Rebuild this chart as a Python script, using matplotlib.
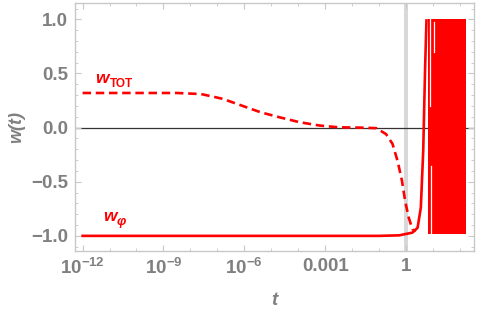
import numpy as np
import matplotlib.pyplot as plt
from matplotlib.ticker import FixedLocator, NullFormatter

plt.rcParams['font.family'] = ['Liberation Sans', 'DejaVu Sans']
plt.rcParams['font.weight'] = 'bold'
plt.rcParams['mathtext.fontset'] = 'custom'
plt.rcParams['mathtext.rm'] = 'Liberation Sans:bold'
plt.rcParams['mathtext.bf'] = 'Liberation Sans:bold'
plt.rcParams['mathtext.it'] = 'Liberation Sans:bold:italic'

# values (log10 t, w)
logt_tot = [-12, -8.5, -7.6, -6.8, -6.1, -5.4, -4.7, -3.95, -3.2, -2.5, -1.7, -1.1,
            -0.74, -0.5, -0.31, -0.15, -0.03, 0.1, 0.24, 0.37]
w_tot = [0.32, 0.32, 0.31, 0.266, 0.204, 0.142, 0.096, 0.05, 0.019, 0.003, 0.0, -0.005,
         -0.06, -0.15, -0.31, -0.49, -0.68, -0.83, -0.94, -0.955]

logt_phi = [-12, -1.0, -0.25, 0.24, 0.43, 0.55, 0.64, 0.71, 0.76]
w_phi = [-1.0, -1.0, -0.995, -0.97, -0.925, -0.74, -0.21, 0.56, 0.99]

# oscillating part of w_phi (fills the band between -1 and 1)
osc_logt = [0.81, 2.22]
osc_low, osc_high = -0.985, 1.0
# white slits inside the oscillation band: (log10 t, w from, w to)
osc_gaps = [(0.875, 1.0, 0.2), (0.935, -0.35, -0.985), (1.05, 0.98, 0.7)]

band_logt = [-0.06, 0.09]

red = '#ff0000'
grey = '#808080'

fig, ax = plt.subplots(figsize=(4.78, 3.13), dpi=100)
fig.subplots_adjust(left=0.157, right=0.992, top=0.99, bottom=0.198)

ax.axvspan(10 ** band_logt[0], 10 ** band_logt[1], color='#d8d8d8', lw=0, zorder=0)
ax.axhline(0, color='#333333', lw=0.9, zorder=1)

ax.plot(10 ** np.array(logt_tot), w_tot, color=red, lw=1.9, ls=(0, (3.2, 1.8)), zorder=3)
ax.plot(10 ** np.array(logt_phi), w_phi, color=red, lw=1.9, zorder=3)
ax.fill_between(10 ** np.array(osc_logt), osc_low, osc_high, color=red, lw=0, zorder=3)
for lg, w0, w1 in osc_gaps:
    ax.plot([10 ** lg, 10 ** lg], [w0, w1], color='white', lw=0.9, zorder=4)

ax.set_xscale('log')
ax.set_xlim(10 ** -12.28, 10 ** 2.53)
ax.set_ylim(-1.14, 1.15)

ax.xaxis.set_major_locator(FixedLocator([1e-12, 1e-9, 1e-6, 1e-3, 1]))
ax.set_xticklabels([r'$10^{-12}$', r'$10^{-9}$', r'$10^{-6}$', '0.001', '1'])
ax.xaxis.set_minor_locator(FixedLocator([10.0 ** k for k in range(-12, 3)]))
ax.xaxis.set_minor_formatter(NullFormatter())
ax.set_yticks([-1.0, -0.5, 0.0, 0.5, 1.0])
ax.set_yticklabels(['\u22121.0', '\u22120.5', '0.0', '0.5', '1.0'])
ax.set_yticks(np.arange(-1.1, 1.15, 0.1), minor=True)

for s in ax.spines.values():
    s.set_color('#c8c8c8')
    s.set_linewidth(1.0)
ax.tick_params(which='both', direction='in', top=True, right=True, color='#c8c8c8',
               labelcolor=grey, labelsize=13.5, pad=5)
ax.tick_params(which='major', length=4, width=0.8)
ax.tick_params(which='minor', length=2.5, width=0.6)

ax.set_xlabel('t', color=grey, fontsize=13.5, style='italic', fontweight='bold', labelpad=10)
ax.set_ylabel('w(t)', color=grey, fontsize=13, style='italic', fontweight='bold', labelpad=4)

ax.text(10 ** -11.52, 0.408, 'w', color=red, fontsize=12.5, style='italic', fontweight='bold')
ax.text(10 ** -10.99, 0.378, 'TOT', color=red, fontsize=8.5, fontweight='bold')
ax.text(10 ** -11.25, -0.863, 'w', color=red, fontsize=12.5, style='italic', fontweight='bold')
ax.text(10 ** -10.73, -0.898, '\u03c6', color=red, fontsize=9.5, style='italic', fontweight='bold')

fig.savefig('out.png', dpi=100)
